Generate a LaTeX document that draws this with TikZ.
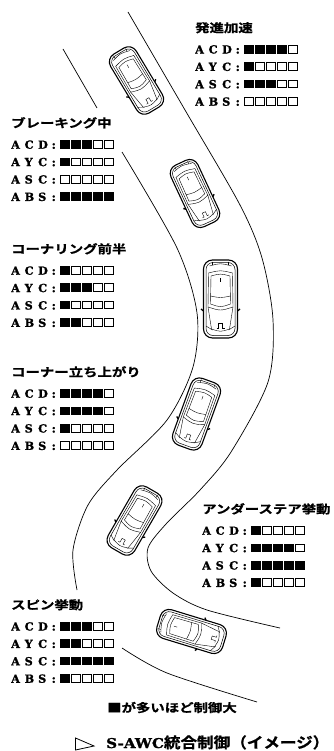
\documentclass[tikz,border=0pt]{standalone}
\usepackage{fontspec}
\setmainfont{DejaVu Serif}[BoldFeatures={FakeBold=1.2}]
\newfontfamily\jp{Noto Sans CJK JP}[BoldFont={Noto Sans CJK JP Bold},BoldFeatures={FakeBold=0.8}]

\newcommand{\on}{\rule{9.8pt}{8.6pt}\hspace{1.2pt}}
\newcommand{\off}{\raisebox{1pt}{\fboxsep=0pt\fboxrule=1pt\fbox{\rule{0pt}{6.6pt}\hspace{7.8pt}}}\hspace{1.2pt}}
\newcommand{\sys}[3]{\makebox[13.5pt][l]{#1}\makebox[13.5pt][l]{#2}\makebox[13.5pt][l]{#3}\makebox[8.5pt][l]{:}}
\newcommand{\gauge}[2]{\sys#1\foreach \k in {1,...,5}{\ifnum\k>#2 \off\else\on\fi}}
\newcommand{\ttl}[1]{{\jp\bfseries\fontsize{11.8}{17.4}\selectfont\scalebox{1.22}[1]{#1}}}

\begin{document}
\begin{tikzpicture}[x=1pt,y=-1pt,
    road/.style={line width=0.7pt},
    block/.style={anchor=north west,inner sep=0pt,align=left,
      font=\bfseries\fontsize{11.2}{17.4}\selectfont},
    car/.pic={
      \draw[line width=1.1pt,rounded corners=9pt] (-17,-39) rectangle (17,39);
      \draw[line width=0.5pt,rounded corners=7pt] (-14.5,-36.5) rectangle (14.5,36.5);
      \draw (-11,-33) .. controls (0,-36) .. (11,-33);
      \draw (-8,-37.5) -- (-8,-34) (8,-37.5) -- (8,-34);
      \draw (-12,-26) .. controls (0,-29) .. (12,-26) -- (12.5,8)
        .. controls (0,12) .. (-12.5,8) -- cycle;
      \draw (-9.5,-23) .. controls (0,-25.5) .. (9.5,-23) -- (10,5)
        .. controls (0,8.5) .. (-10,5) -- cycle;
      \draw (-10,-3) .. controls (0,-1) .. (10,-3);
      \draw (0,-21) -- (0,-17);
      \draw (-12.5,8) -- (-9,30) .. controls (0,33) .. (9,30) -- (12.5,8);
      \draw (-14.5,27) -- (-8,31) (14.5,27) -- (8,31);
      \draw (-4,29) -- (-2,29) -- (-2,24) -- (2,24) -- (2,29) -- (4,29);
      \draw[line width=1.3pt] (-17,12) -- (-19.5,10) (17,12) -- (19.5,10);
    }]
  \useasboundingbox (0,0) rectangle (334,751);

  \draw[road] plot[smooth] coordinates {(128,12) (185,110) (240,205) (262,258)
    (273,320) (268,382) (231,452) (200,490) (166,524) (148,548) (151,571)
    (173,593) (207,610) (280,628)};
  \draw[road] (63,49) -- (97,108);
  \draw[road] plot[smooth] coordinates {(122,152) (177,248) (197,313) (193,367)
    (167,420) (117,470) (88,505) (73,550) (77,590)};
  \draw[road] plot[smooth] coordinates {(122,648) (167,673) (257,702)};

  \pic[rotate=31,scale=.88] (car1) at (136.5,80.5) {car};
  \pic[rotate=25,scale=.87] (car2) at (195,193.5) {car};
  \pic (car3) at (220.5,299) {car};
  \pic[rotate=-20,scale=.91] (car4) at (196.5,414) {car};
  \pic[rotate=-30,scale=.9] (car5) at (134.5,520.5) {car};
  \pic[rotate=73,scale=.88] (car6) at (191.5,631.5) {car};

  \node[block] (start) at (195,22) {\ttl{発進加速}\\[3.9pt]
    \gauge{ACD}{4}\\\gauge{AYC}{1}\\\gauge{ASC}{3}\\\gauge{ABS}{0}};
  \node[block] (brake) at (11,117) {\ttl{ブレーキング中}\\[3.9pt]
    \gauge{ACD}{3}\\\gauge{AYC}{1}\\\gauge{ASC}{0}\\\gauge{ABS}{5}};
  \node[block] (entry) at (11,243) {\ttl{コーナリング前半}\\[3.9pt]
    \gauge{ACD}{1}\\\gauge{AYC}{3}\\\gauge{ASC}{1}\\\gauge{ABS}{2}};
  \node[block] (exit) at (11,366) {\ttl{コーナー立ち上がり}\\[3.9pt]
    \gauge{ACD}{4}\\\gauge{AYC}{4}\\\gauge{ASC}{1}\\\gauge{ABS}{0}};
  \node[block] (under) at (202,503) {\ttl{アンダーステア挙動}\\[3.9pt]
    \gauge{ACD}{1}\\\gauge{AYC}{4}\\\gauge{ASC}{5}\\\gauge{ABS}{1}};
  \node[block] (spin) at (11,599) {\ttl{スピン挙動}\\[3.9pt]
    \gauge{ACD}{3}\\\gauge{AYC}{2}\\\gauge{ASC}{5}\\\gauge{ABS}{1}};

  \node[anchor=west,inner sep=0pt] (legend) at (107,707.5) {\ttl{■が多いほど制御大}};
  \draw[line width=0.8pt] (75.5,738) -- (94,746) -- (75.5,750) -- cycle;
  \node[anchor=base west,inner sep=0pt] (caption) at (106,748)
    {\scalebox{1.12}[1]{\fontsize{13.5}{16}\selectfont\bfseries S-AWC{\jp\bfseries\fontsize{14.8}{16}\selectfont 統合制御（イメージ）}}};
\end{tikzpicture}
\end{document}
